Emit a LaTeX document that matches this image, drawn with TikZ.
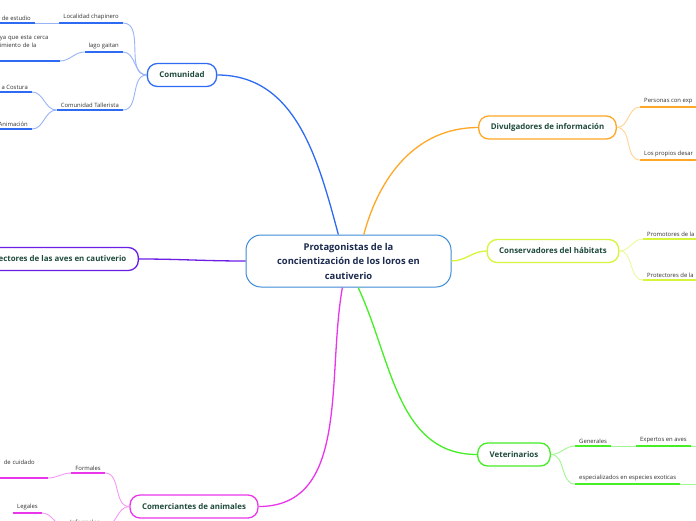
\documentclass[tikz,border=0pt]{standalone}
\usepackage{fontspec}
\setmainfont{Open Sans}
\usetikzlibrary{positioning}
\definecolor{cBlue}{HTML}{2F6BF2}
\definecolor{cOrange}{HTML}{FFA726}
\definecolor{cLime}{HTML}{D7F53A}
\definecolor{cGreen}{HTML}{45EE25}
\definecolor{cMagenta}{HTML}{EA36EA}
\definecolor{cPurple}{HTML}{6A1EE6}
\definecolor{cCentre}{HTML}{3D8BD6}
\definecolor{tNavy}{HTML}{1B2A4E}
\definecolor{tTopic}{HTML}{1E4A3B}
\definecolor{tSub}{HTML}{333333}
\tikzset{
  centre/.style={draw=cCentre, line width=1pt, rounded corners=15pt, fill=white,
    font=\fontsize{9.4}{14.5}\selectfont\bfseries, text=tNavy, align=center,
    minimum width=205pt, minimum height=52pt},
  topic/.style={draw=#1, line width=1.3pt, rounded corners=10pt, fill=white,
    font=\fontsize{7.9}{9}\selectfont\bfseries, text=tTopic,
    minimum height=23pt, inner xsep=12pt},
  sub/.style={font=\fontsize{5.9}{8}\selectfont, text=tSub, inner xsep=4pt, inner ysep=2.6pt,
    append after command={(\tikzlastnode.south west) edge[draw=#1, line width=1.8pt] (\tikzlastnode.south east)}},
  branch/.style={draw=#1, line width=1.3pt},
  twig/.style={draw=#1!50, line width=0.9pt},
}

\begin{document}
\begin{tikzpicture}[x=1pt, y=-1pt]
  \useasboundingbox (0,0) rectangle (696,520);
  \clip (0,0) rectangle (696,520);
  \fill[white] (0,0) rectangle (696,520);
  % centre and main topics
  \node[centre] (ctr) at (348.5,261) {Protagonistas de la\\concientización de los loros en\\cautiverio};
  \node[topic=cBlue] (com) at (182,75) {Comunidad};
  \node[topic=cOrange] (div) at (547.5,127.5) {Divulgadores de información};
  \node[topic=cLime] (cons) at (553,251) {Conservadores del hábitats};
  \node[topic=cGreen] (vet) at (514,454.5) {Veterinarios};
  \node[topic=cMagenta] (comer) at (194,506.5) {Comerciantes de animales};
  \node[topic=cPurple, anchor=east] (prot) at (139,259) {Protectores de las aves en cautiverio};
  \draw[branch=cBlue] (ctr.111) to[out=105, in=0] (com.east);
  \draw[branch=cOrange] (ctr.60) to[out=75, in=180] (div.west);
  \draw[branch=cLime] (ctr.east) to[out=0, in=180] (cons.west);
  \draw[branch=cGreen] (ctr.-70) to[out=-65, in=180] (vet.west);
  \draw[branch=cMagenta] (ctr.-103) to[out=-100, in=0] (comer.east);
  \draw[branch=cPurple] (prot.east) to[out=0, in=180] (ctr.west);
  % Comunidad
  \node[sub=cBlue, anchor=south east] (loc) at (123,23) {Localidad chapinero};
  \node[sub=cBlue, anchor=south east] (est) at (35,23) {de estudio};
  \node[sub=cBlue, anchor=south east] (lago) at (123,52) {lago gaitan};
  \node[sub=cBlue, anchor=south east, align=left, text width=56pt] (cerca) at (60,61) {ya que esta cerca\\imiento de la\\\strut};
  \node[sub=cBlue, anchor=south east] (tall) at (123,110) {Comunidad Tallerista};
  \node[sub=cBlue, anchor=south east] (cost) at (32,92) {a Costura};
  \node[sub=cBlue, anchor=south east] (anim) at (32,129) {Animación};
  \draw[twig=cBlue] (com.west) to[out=180, in=0] (loc.south east);
  \draw[twig=cBlue] (com.west) to[out=180, in=0] (lago.south east);
  \draw[twig=cBlue] (com.west) to[out=180, in=0] (tall.south east);
  \draw[twig=cBlue] (loc.south west) -- (est.south east);
  \draw[twig=cBlue] (lago.south west) to[out=180, in=0] (cerca.south east);
  \draw[twig=cBlue] (tall.south west) to[out=180, in=0] (cost.south east);
  \draw[twig=cBlue] (tall.south west) to[out=180, in=0] (anim.south east);
  % Divulgadores
  \node[sub=cOrange, anchor=south west] (pers) at (640,107) {Personas con exp};
  \node[sub=cOrange, anchor=south west] (prop) at (640,160) {Los propios desar};
  \draw[twig=cOrange] (div.east) to[out=0, in=180] (pers.south west);
  \draw[twig=cOrange] (div.east) to[out=0, in=180] (prop.south west);
  % Conservadores
  \node[sub=cLime, anchor=south west] (promo) at (643,239) {Promotores de la};
  \node[sub=cLime, anchor=south west] (protec) at (643,280) {Protectores de la};
  \draw[twig=cLime] (cons.east) to[out=0, in=180] (promo.south west);
  \draw[twig=cLime] (cons.east) to[out=0, in=180] (protec.south west);
  % Veterinarios
  \node[sub=cGreen, anchor=south west] (gen) at (575,446) {Generales};
  \node[sub=cGreen, anchor=south west] (expa) at (636,446) {Expertos en aves};
  \node[sub=cGreen, anchor=south west] (espe) at (575,484) {especializados en especies exoticas};
  \coordinate (expaR) at (700,446);
  \coordinate (espeR) at (700,484);
  \draw[twig=cGreen] (vet.east) to[out=0, in=180] (gen.south west);
  \draw[twig=cGreen] (vet.east) to[out=0, in=180] (espe.south west);
  \draw[twig=cGreen] (gen.south east) -- (expa.south west);
  \draw[twig=cGreen] (expa.south east) -- (expaR);
  \draw[twig=cGreen] (espe.south east) -- (espeR);
  % Comerciantes
  \node[sub=cMagenta, anchor=south east] (form) at (105,473) {Formales};
  \node[sub=cMagenta, anchor=south east, align=left, text width=40pt] (cuid) at (48,478) {de cuidado\\\strut};
  \node[sub=cMagenta, anchor=south west] (infor) at (66,527) {Informales};
  \node[sub=cMagenta, anchor=south west] (leg) at (13,513) {Legales};
  \draw[twig=cMagenta] (comer.west) to[out=180, in=0] (form.south east);
  \draw[twig=cMagenta] (comer.west) to[out=180, in=0] (infor.south east);
  \draw[twig=cMagenta] (form.south west) to[out=180, in=0] (cuid.south east);
  \draw[twig=cMagenta] (infor.south west) to[out=180, in=0] (leg.south east);
\end{tikzpicture}
\end{document}
